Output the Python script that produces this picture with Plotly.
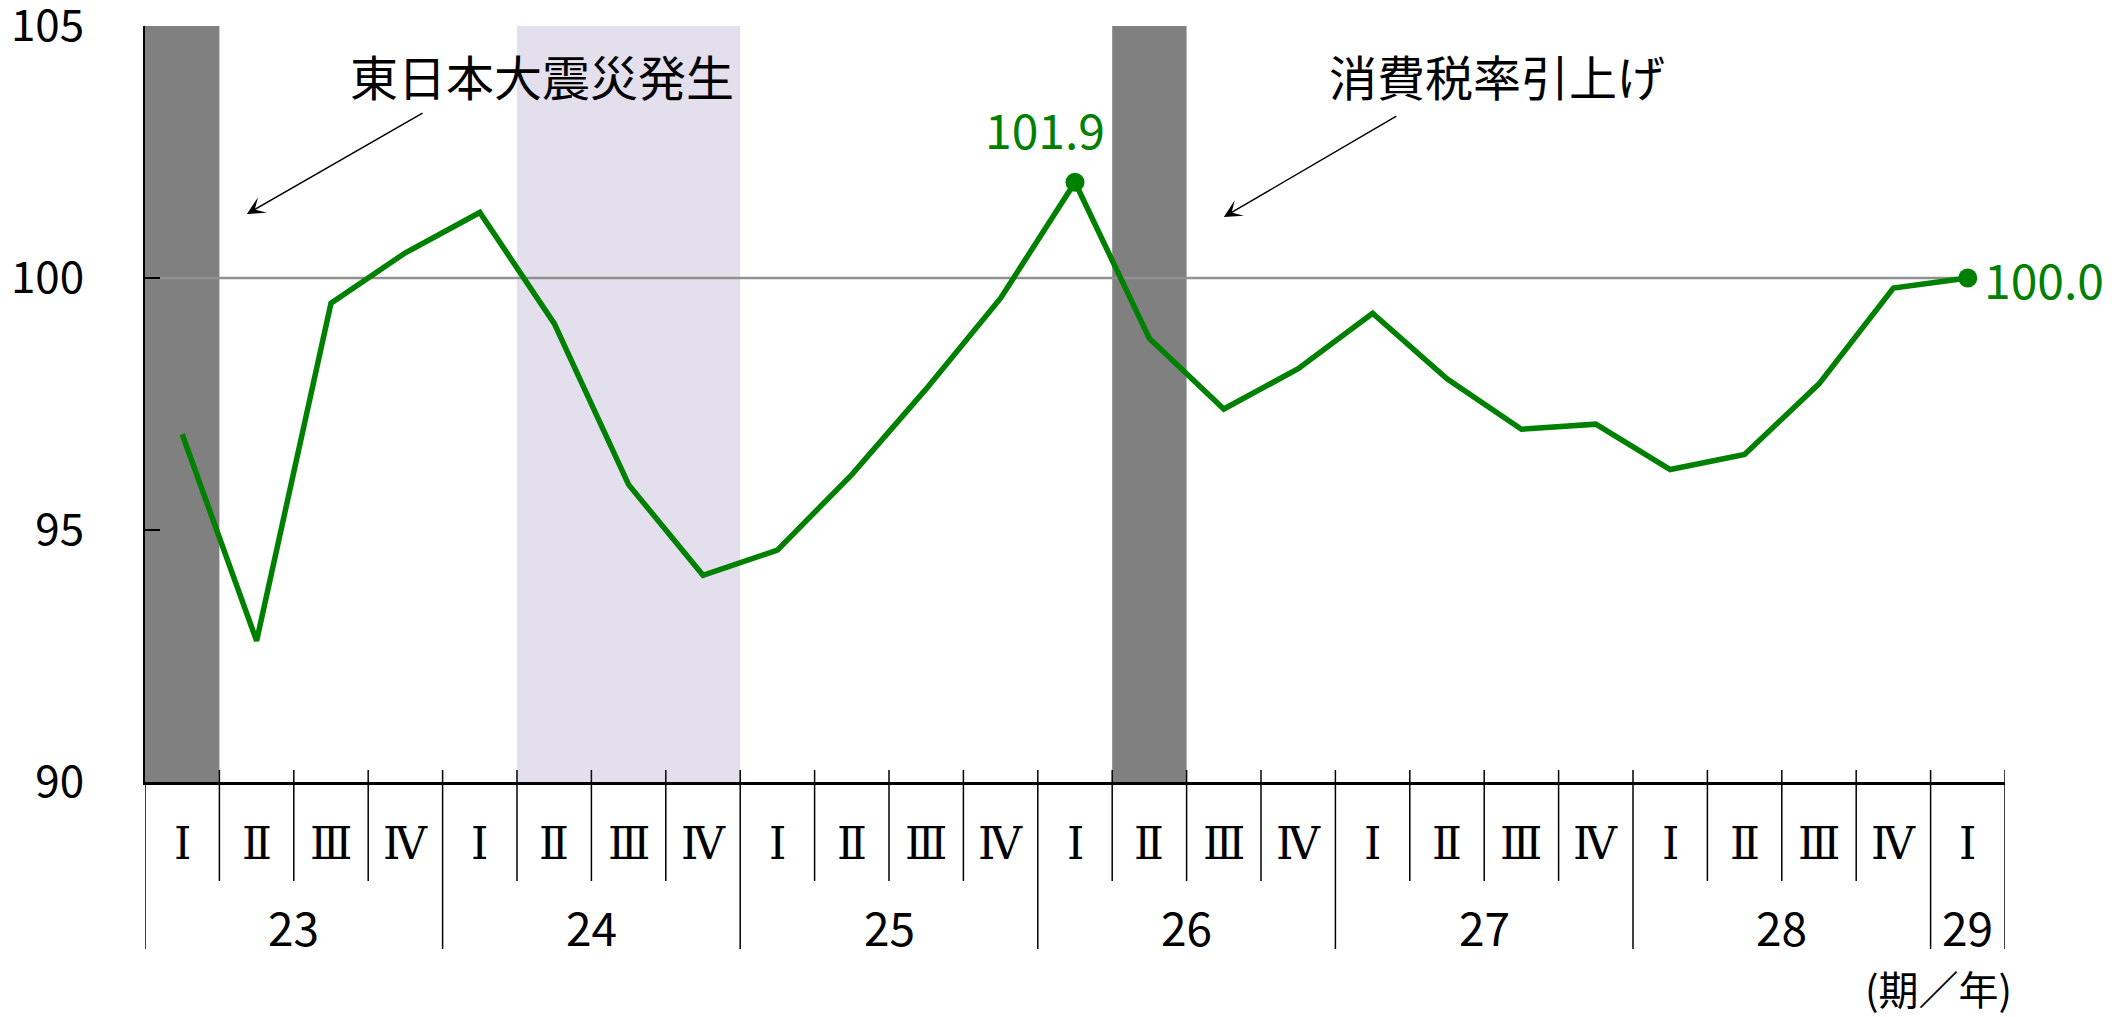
import plotly.graph_objects as go

# ---- data ----
quarter_labels = ["Ⅰ", "Ⅱ", "Ⅲ", "Ⅳ"] * 6 + ["Ⅰ"]
years = ["23", "24", "25", "26", "27", "28", "29"]
quarters_per_year = [4, 4, 4, 4, 4, 4, 1]
values = [96.9, 92.8, 99.5, 100.5, 101.3, 99.1, 95.9, 94.1,
          94.6, 96.1, 97.8, 99.6, 101.9, 98.8, 97.4, 98.2,
          99.3, 98.0, 97.0, 97.1, 96.2, 96.5, 97.9, 99.8, 100.0]
highlight_idx = [12, 24]
dark_band_idx = [0, 13]          # 東日本大震災発生, 消費税率引上げ
light_band_idx = [5, 6, 7]
base_value = 100
y_ticks = [90, 95, 100, 105]

FONT = "Noto Sans CJK JP"
ROMAN_FONT = "DejaVu Serif"
GREEN = "#008000"
n = len(values)
xc = [i + 0.5 for i in range(n)]

fig = go.Figure()

shapes = []
shapes.append(dict(type="rect", xref="x", yref="paper", layer="below",
                   x0=min(light_band_idx), x1=max(light_band_idx) + 1, y0=0, y1=1,
                   fillcolor="#E3DFEC", line=dict(width=0)))
shapes.append(dict(type="line", xref="x", yref="y", layer="below",
                   x0=0, x1=xc[-1], y0=base_value, y1=base_value,
                   line=dict(color="#909090", width=2.5)))
for i in dark_band_idx:
    shapes.append(dict(type="rect", xref="x", yref="paper", layer="below",
                       x0=i, x1=i + 1, y0=0, y1=1,
                       fillcolor="#808080", line=dict(width=0)))

year_bounds = [0]
for q in quarters_per_year:
    year_bounds.append(year_bounds[-1] + q)
plot_h = 756.0
top_ext = 12 / plot_h
q_bottom = -99 / plot_h
y_bottom = -167 / plot_h
for k in range(n + 1):
    yb = y_bottom if k in year_bounds else q_bottom
    shapes.append(dict(type="line", xref="x", yref="paper", layer="above",
                       x0=k, x1=k, y0=top_ext if k > 0 else 0, y1=yb,
                       line=dict(color="black", width=1.5)))

fig.add_trace(go.Scatter(x=xc, y=values, mode="lines",
                         line=dict(color=GREEN, width=5.5), hoverinfo="skip"))
fig.add_trace(go.Scatter(x=[xc[i] for i in highlight_idx],
                         y=[values[i] for i in highlight_idx],
                         mode="markers", marker=dict(color=GREEN, size=19),
                         cliponaxis=False, hoverinfo="skip"))

annotations = []
hl_style = [dict(xanchor="center", yanchor="middle", xshift=-30, yshift=54),
            dict(xanchor="left", yanchor="middle", xshift=14, yshift=0)]
for i, st in zip(highlight_idx, hl_style):
    annotations.append(dict(x=xc[i], y=values[i], xref="x", yref="y",
                            text=f"{values[i]:.1f}", showarrow=False,
                            font=dict(size=48, family=FONT, color=GREEN), **st))

for i, q in enumerate(quarter_labels):
    annotations.append(dict(x=xc[i], y=-61 / plot_h, xref="x", yref="paper",
                            text=q, showarrow=False, yanchor="middle",
                            font=dict(size=44, family=ROMAN_FONT, color="black")))
for j, yr in enumerate(years):
    annotations.append(dict(x=(year_bounds[j] + year_bounds[j + 1]) / 2,
                            y=-144 / plot_h, xref="x", yref="paper",
                            text=yr, showarrow=False, yanchor="middle",
                            font=dict(size=46, family=FONT, color="black")))
annotations.append(dict(x=(1938 - 145) / 1860, y=-206 / plot_h,
                        xref="paper", yref="paper", xanchor="center", yanchor="middle",
                        text="(期／年)", showarrow=False,
                        font=dict(size=40, family=FONT, color="black")))

annotations.append(dict(x=5.34, y=0.935, xref="x", yref="paper", yanchor="middle",
                        text="東日本大震災発生", showarrow=False,
                        font=dict(size=48, family=FONT, color="black")))
annotations.append(dict(x=18.17, y=0.935, xref="x", yref="paper", yanchor="middle",
                        text="消費税率引上げ", showarrow=False,
                        font=dict(size=48, family=FONT, color="black")))
annotations.append(dict(x=1.37, y=101.27, ax=3.75, ay=103.29,
                        xref="x", yref="y", axref="x", ayref="y", text="",
                        showarrow=True, arrowhead=3, arrowsize=2,
                        arrowwidth=1.5, arrowcolor="black"))
annotations.append(dict(x=14.50, y=101.21, ax=16.84, ay=103.23,
                        xref="x", yref="y", axref="x", ayref="y", text="",
                        showarrow=True, arrowhead=3, arrowsize=2,
                        arrowwidth=1.5, arrowcolor="black"))

fig.update_layout(
    width=2117, height=1009,
    margin=dict(l=137, r=120, t=18, b=235, autoexpand=False),
    paper_bgcolor="white", plot_bgcolor="white",
    showlegend=False,
    shapes=shapes, annotations=annotations,
    font=dict(family=FONT, color="black"),
    xaxis=dict(range=[0, n], showticklabels=False, showgrid=False,
               zeroline=False, showline=True, linecolor="black", linewidth=2.5,
               ticks=""),
    yaxis=dict(range=[90, 105], tickvals=y_ticks, showgrid=False,
               zeroline=False, showline=True, linecolor="black", linewidth=2,
               ticks="inside", ticklen=15, tickwidth=2, tickcolor="black",
               ticklabelstandoff=50, ticklabeloverflow="allow",
               tickfont=dict(size=44, family=FONT, color="black")),
)

fig.write_html("out.html", config={"displayModeBar": False})
